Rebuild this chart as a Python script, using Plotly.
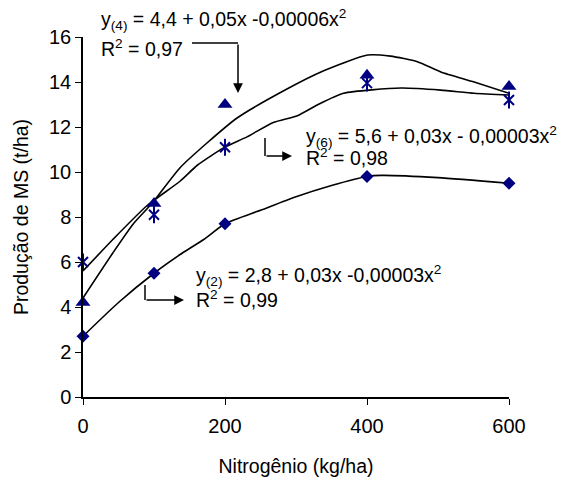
import plotly.graph_objects as go

# Observed data
nitrogen = [0, 100, 200, 400, 600]
y2_obs = [2.7, 5.5, 7.7, 9.8, 9.5]
y4_obs = [4.2, 8.6, 13.0, 14.3, 13.8]
y6_obs = [6.0, 8.1, 11.1, 13.95, 13.2]

# Fitted curves as drawn
c2_x = [0, 50, 100, 140, 170, 200, 250, 300, 350, 400, 420, 500, 600]
c2_y = [2.7, 4.2, 5.5, 6.4, 7.0, 7.7, 8.3, 8.9, 9.4, 9.8, 9.85, 9.75, 9.5]
c4_x = [0, 42, 71, 97, 137, 175, 217, 282, 339, 401, 433, 471, 504, 551, 600]
c4_y = [4.4, 6.4, 7.7, 8.6, 10.2, 11.3, 12.4, 13.6, 14.5, 15.2, 15.15, 14.9, 14.45, 14.0, 13.5]
c6_x = [0, 42, 90, 137, 161, 198, 231, 268, 302, 330, 367, 448, 504, 551, 600]
c6_y = [5.6, 7.0, 8.5, 9.6, 10.3, 11.07, 11.56, 12.2, 12.5, 12.98, 13.5, 13.73, 13.64, 13.5, 13.42]

x_ticks = [0, 200, 400, 600]
y_ticks = [0, 2, 4, 6, 8, 10, 12, 14, 16]

NAVY = "#000080"
FONT = "Liberation Sans, Arial, sans-serif"

W, H = 568, 480
L, R, T, B = 83, 59, 37, 83
PW, PH = W - L - R, H - T - B


def px(x):
    return (x - L) / PW


def py(y):
    return (H - B - y) / PH


fig = go.Figure()
for cx, cy in [(c2_x, c2_y), (c4_x, c4_y), (c6_x, c6_y)]:
    fig.add_trace(go.Scatter(x=cx, y=cy, mode="lines", line=dict(color="black", width=1.6, shape="spline", smoothing=0.6),
                             showlegend=False, hoverinfo="skip", cliponaxis=False))

fig.add_trace(go.Scatter(x=nitrogen, y=y2_obs, mode="markers", cliponaxis=False,
                         marker=dict(symbol="diamond", size=10, color=NAVY), showlegend=False))
fig.add_trace(go.Scatter(x=nitrogen, y=y4_obs, mode="markers", cliponaxis=False,
                         marker=dict(symbol="triangle-up", size=13, color=NAVY), showlegend=False))
fig.add_trace(go.Scatter(x=nitrogen, y=y6_obs, mode="markers", cliponaxis=False,
                         marker=dict(symbol="x-thin-open", size=10, color=NAVY, line=dict(color=NAVY, width=2)),
                         showlegend=False))
fig.add_trace(go.Scatter(x=nitrogen, y=y6_obs, mode="markers", cliponaxis=False,
                         marker=dict(symbol="line-ns-open", size=12, color=NAVY, line=dict(color=NAVY, width=2)),
                         showlegend=False))

ann_font = dict(family=FONT, size=19.5, color="black")
texts = [
    (100, 20, "y<sub>(4)</sub> = 4,4 + 0,05x -0,00006x<sup>2</sup>"),
    (100, 48, "R<sup>2</sup> = 0,97"),
    (305, 136, "y<sub>(6)</sub> = 5,6 + 0,03x - 0,00003x<sup>2</sup>"),
    (305, 157, "R<sup>2</sup> = 0,98"),
    (195, 275, "y<sub>(2)</sub> = 2,8 + 0,03x -0,00003x<sup>2</sup>"),
    (195, 299, "R<sup>2</sup> = 0,99"),
]
for tx, ty, t in texts:
    fig.add_annotation(x=px(tx), y=py(ty), xref="paper", yref="paper", text=t, showarrow=False,
                       xanchor="left", yanchor="middle", font=ann_font, borderpad=0)

# bent arrows: line segments + arrowheads
segs = [((192, 43), (238, 43)), ((265, 138), (265, 156)), ((145, 285), (145, 300))]
for (x0, y0), (x1, y1) in segs:
    fig.add_shape(type="line", xref="paper", yref="paper", x0=px(x0), y0=py(y0), x1=px(x1), y1=py(y1),
                  line=dict(color="black", width=1.5))
arrows = [((238, 43), (238, 93)), ((265, 156), (292, 156)), ((145, 300), (184, 300))]
for (x0, y0), (x1, y1) in arrows:
    fig.add_annotation(x=px(x1), y=py(y1), xref="paper", yref="paper", ax=x0 - x1, ay=y0 - y1,
                       axref="pixel", ayref="pixel", text="", showarrow=True,
                       arrowhead=2, arrowsize=1.3, arrowwidth=1.5, arrowcolor="black")

fig.update_layout(
    width=W, height=H, margin=dict(l=L, r=R, t=T, b=B),
    paper_bgcolor="white", plot_bgcolor="white",
    font=dict(family=FONT, size=20, color="black"),
    xaxis=dict(range=[0, 600], tickvals=x_ticks, showgrid=False, zeroline=False, showline=True,
               linecolor="black", linewidth=1.5, ticks="outside", ticklen=6, tickcolor="black",
               ticklabelstandoff=4, automargin=False,
               tickfont=dict(size=20), title=dict(text="Nitrogênio (kg/ha)", font=dict(size=19.5), standoff=24)),
    yaxis=dict(range=[0, 16], tickvals=y_ticks, showgrid=False, zeroline=False, showline=True,
               linecolor="black", linewidth=1.5, ticks="outside", ticklen=6, tickcolor="black",
               automargin=False,
               tickfont=dict(size=20), title=dict(text="Produção de MS (t/ha)", font=dict(size=19.5), standoff=15)),
)

fig.write_html("out.html")
